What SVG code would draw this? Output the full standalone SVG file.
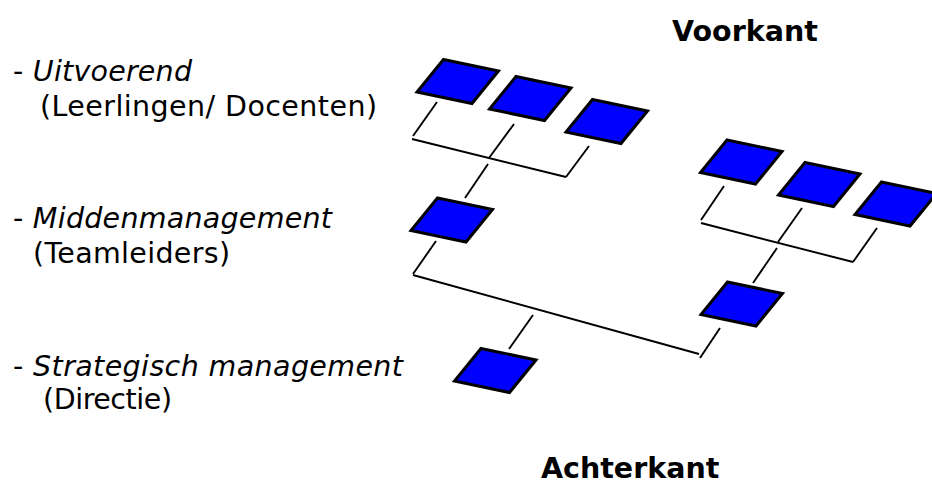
<svg xmlns="http://www.w3.org/2000/svg" width="932" height="490" viewBox="0 0 932 490">
<defs>
<path id="dia" d="M0 0 L55 11.5 L28.5 44 L-26.5 32.5 Z"/>
</defs>
<style>
.n{fill:#0000ff;stroke:#000;stroke-width:3;stroke-linejoin:miter}
.c line{stroke:#000;stroke-width:1.9;stroke-linecap:butt}
.t{font-family:"DejaVu Sans","Verdana",sans-serif;font-size:28.5px;fill:#000}
.i{font-style:italic}
.h{font-family:"DejaVu Sans","Verdana",sans-serif;font-size:28.5px;font-weight:bold;fill:#000}
</style>
<rect width="932" height="490" fill="#fff"/>
<g id="labels">
<text class="t" x="13" y="81" textLength="179">- <tspan class="i">Uitvoerend</tspan></text>
<text class="t" x="40" y="116" textLength="337">(Leerlingen/ Docenten)</text>
<text class="t" x="13" y="228" textLength="319">- <tspan class="i">Middenmanagement</tspan></text>
<text class="t" x="33" y="263" textLength="197">(Teamleiders)</text>
<text class="t" x="13" y="376" textLength="390">- <tspan class="i">Strategisch management</tspan></text>
<text class="t" x="43" y="409" textLength="129">(Directie)</text>
<text class="h" x="672" y="41">Voorkant</text>
<text class="h" x="541" y="478">Achterkant</text>
</g>
<g id="connectors" class="c">
<line x1="437" y1="102" x2="413" y2="136"/>
<line x1="412" y1="139" x2="566" y2="177"/>
<line x1="566" y1="177" x2="589" y2="146"/>
<line x1="514" y1="124" x2="489" y2="158"/>
<line x1="488" y1="164" x2="465" y2="198"/>
<line x1="436" y1="241" x2="413" y2="274"/>
<line x1="413" y1="275" x2="699" y2="354"/>
<line x1="720" y1="328" x2="700" y2="358"/>
<line x1="533" y1="315" x2="509" y2="349"/>
<line x1="724" y1="186" x2="701" y2="220"/>
<line x1="701" y1="223" x2="853" y2="262"/>
<line x1="853" y1="262" x2="877" y2="228"/>
<line x1="802" y1="208" x2="778" y2="242"/>
<line x1="777" y1="248" x2="753" y2="283"/>
</g>
<g id="uit1"><use href="#dia" class="n" transform="translate(443.5 59.5)"/></g>
<g id="uit2"><use href="#dia" class="n" transform="translate(516 76.5)"/></g>
<g id="uit3"><use href="#dia" class="n" transform="translate(592.5 99.5)"/></g>
<g id="uit4"><use href="#dia" class="n" transform="translate(727 140)"/></g>
<g id="uit5"><use href="#dia" class="n" transform="translate(805 162.5)"/></g>
<g id="uit6"><use href="#dia" class="n" transform="translate(881.5 182)"/></g>
<g id="midden1"><use href="#dia" class="n" transform="translate(437.5 198)"/></g>
<g id="midden2"><use href="#dia" class="n" transform="translate(727.5 282)"/></g>
<g id="directie"><use href="#dia" class="n" transform="translate(481 348.5)"/></g>
</svg>
